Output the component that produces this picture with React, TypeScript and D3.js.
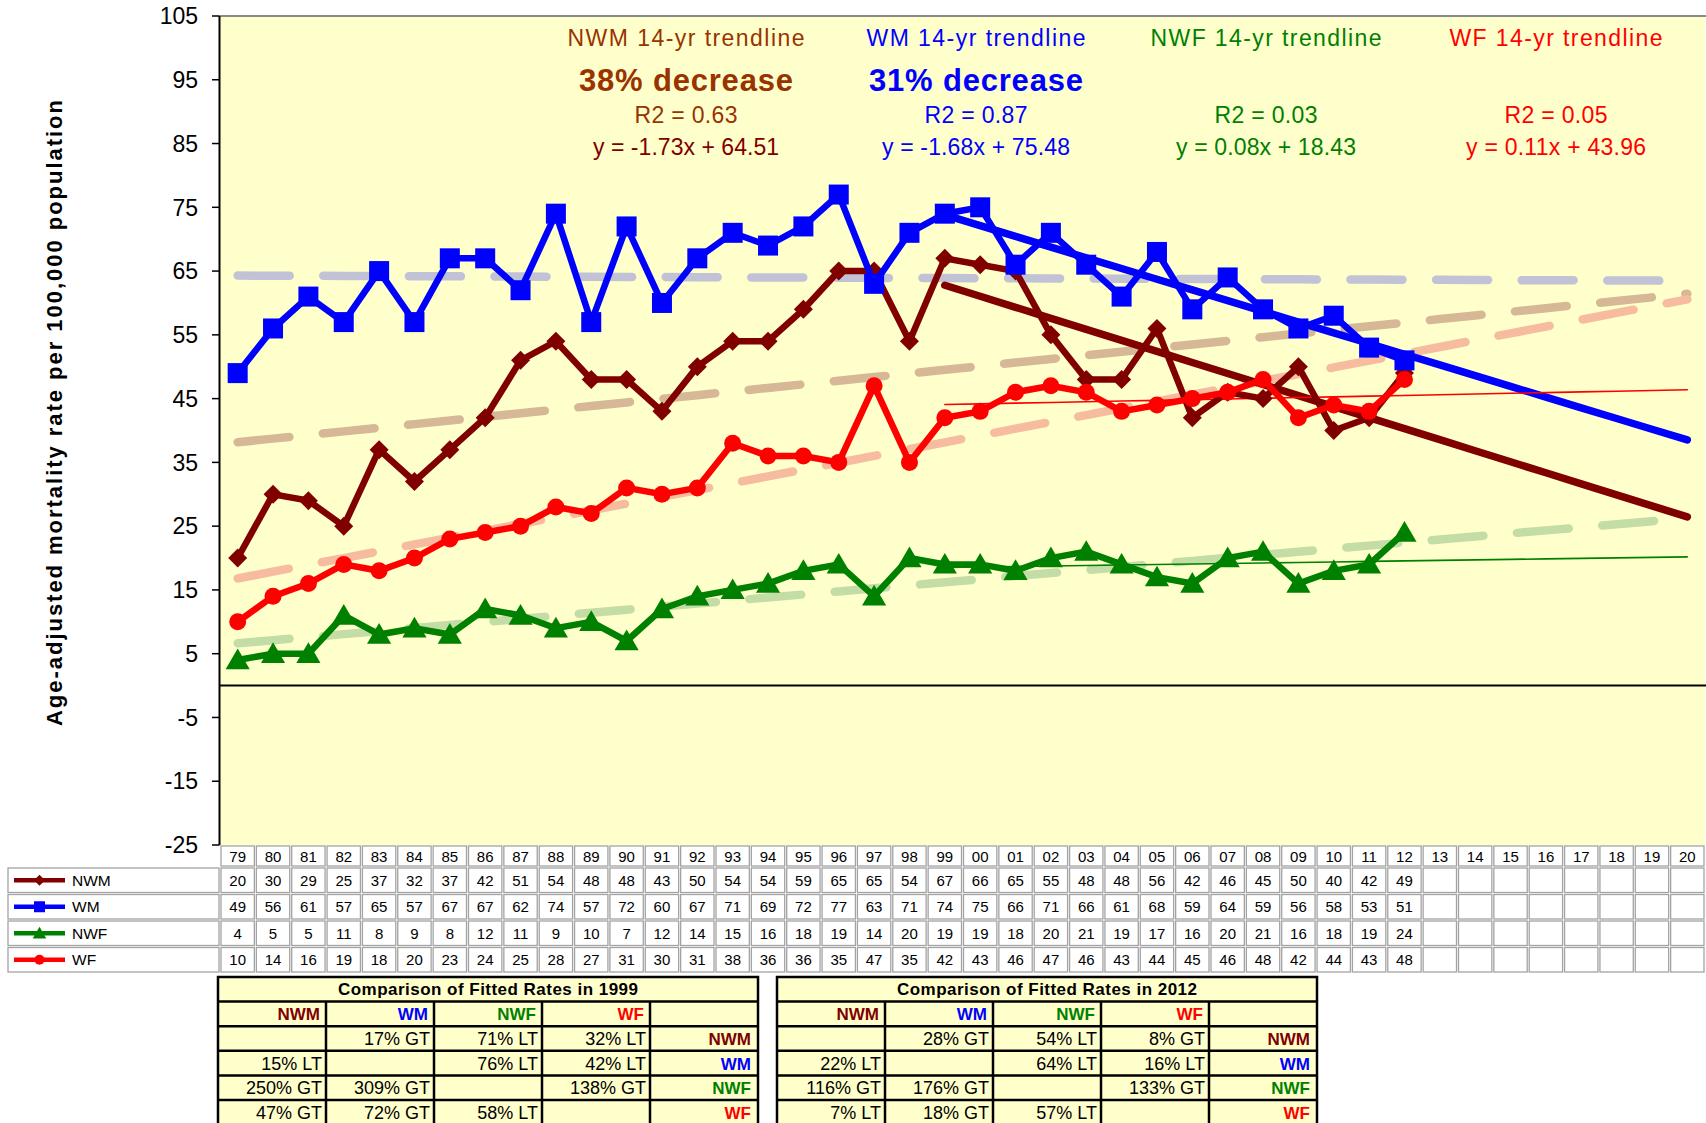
import React, { useEffect } from 'react';
import * as d3 from 'd3';

const years = ['79','80','81','82','83','84','85','86','87','88','89','90','91','92','93','94','95','96','97','98','99','00','01','02','03','04','05','06','07','08','09','10','11','12','13','14','15','16','17','18','19','20'];
const seriesNames = ['NWM', 'WM', 'NWF', 'WF'];
const NWM = [20,30,29,25,37,32,37,42,51,54,48,48,43,50,54,54,59,65,65,54,67,66,65,55,48,48,56,42,46,45,50,40,42,49];
const WM = [49,56,61,57,65,57,67,67,62,74,57,72,60,67,71,69,72,77,63,71,74,75,66,71,66,61,68,59,64,59,56,58,53,51];
const NWF = [4,5,5,11,8,9,8,12,11,9,10,7,12,14,15,16,18,19,14,20,19,19,18,20,21,19,17,16,20,21,16,18,19,24];
const WF = [10,14,16,19,18,20,23,24,25,28,27,31,30,31,38,36,36,35,47,35,42,43,46,47,46,43,44,45,46,48,42,44,43,48];
const yTicks = [105,95,85,75,65,55,45,35,25,15,5,-5,-15,-25];

const trendSlope = [-1.73, -1.68, 0.08, 0.11];
const trendIntercept = [64.51, 75.48, 18.43, 43.96];
const trendR2 = ['0.63', '0.87', '0.03', '0.05'];
const trendDecrease = ['38% decrease', '31% decrease', '', ''];
const trendStartYear = '99';

const cmpHeaders = ['NWM', 'WM', 'NWF', 'WF', ''];
const cmp1999 = [
  ['', '17% GT', '71% LT', '32% LT', 'NWM'],
  ['15% LT', '', '76% LT', '42% LT', 'WM'],
  ['250% GT', '309% GT', '', '138% GT', 'NWF'],
  ['47% GT', '72% GT', '58% LT', '', 'WF'],
];
const cmp2012 = [
  ['', '28% GT', '54% LT', '8% GT', 'NWM'],
  ['22% LT', '', '64% LT', '16% LT', 'WM'],
  ['116% GT', '176% GT', '', '133% GT', 'NWF'],
  ['7% LT', '18% GT', '57% LT', '', 'WF'],
];

const colors = ['#800000', '#0000FF', '#008000', '#FF0000'];
const labelColors = ['#993300', '#0000FF', '#008000', '#FF0000'];
const eqColors = ['#800000', '#0000FF', '#008000', '#FF0000'];
const longColors = ['#D6B896', '#C2C2D6', '#C4DDA6', '#F7BCA0'];
const FONT = 'Liberation Sans, Arial, Helvetica, sans-serif';

function linreg(vals: number[]) {
  const n = vals.length;
  const mx = (n - 1) / 2;
  const my = d3.mean(vals) as number;
  let sxy = 0, sxx = 0;
  for (let i = 0; i < n; i++) { sxy += (i - mx) * (vals[i] - my); sxx += (i - mx) * (i - mx); }
  const m = sxy / sxx;
  return { m, b: my - m * mx };
}

function Marker({ kind, s, color }: { kind: number; s: number; color: string }) {
  if (kind === 0) return <path d={`M0,${-s} L${s},0 L0,${s} L${-s},0Z`} fill={color} />;
  if (kind === 1) return <rect x={-s} y={-s} width={2 * s} height={2 * s} fill={color} />;
  if (kind === 2) return <path d={`M0,${-s} L${s * 1.05},${s * 0.8} L${-s * 1.05},${s * 0.8}Z`} fill={color} />;
  return <circle r={s} fill={color} />;
}

function CompTable({ x0, title, rows }: { x0: number; title: string; rows: string[][] }) {
  const top = 977, rh = 24.6, cw = 108, w = cw * 5;
  const els: any[] = [];
  els.push(<rect key="bg" x={x0} y={top} width={w} height={rh * 6 + 4} fill="#FFFFCC" stroke="#000" strokeWidth={2.5} />);
  els.push(<text key="t" x={x0 + w / 2} y={top + rh / 2 + 6} textAnchor="middle" fontWeight="bold" fontSize={17} fontFamily={FONT}
    textLength={300} lengthAdjust="spacing">{title}</text>);
  for (let r = 1; r <= 5; r++) {
    els.push(<line key={'h' + r} x1={x0} x2={x0 + w} y1={top + rh * r} y2={top + rh * r} stroke="#000" strokeWidth={2.5} />);
  }
  for (let c = 1; c < 5; c++) {
    els.push(<line key={'v' + c} x1={x0 + cw * c} x2={x0 + cw * c} y1={top + rh} y2={top + rh * 6 + 4} stroke="#000" strokeWidth={2.5} />);
  }
  cmpHeaders.forEach((h, c) => {
    if (!h) return;
    els.push(<text key={'hd' + c} x={x0 + cw * (c + 1) - 6} y={top + rh * 1.5 + 6} textAnchor="end" fontWeight="bold" fontSize={17} fill={colors[c]} fontFamily={FONT}>{h}</text>);
  });
  rows.forEach((row, r) => {
    row.forEach((cell, c) => {
      if (!cell) return;
      const isLabel = c === 4;
      els.push(
        <text key={'c' + r + '_' + c} x={x0 + cw * (c + 1) - (isLabel ? 7 : 4)} y={top + rh * (r + 2.5) + 6.5}
          textAnchor="end" fontSize={isLabel ? 17 : 18} fontWeight={isLabel ? 'bold' : 'normal'}
          fill={isLabel ? colors[seriesNames.indexOf(cell)] : '#000'} fontFamily={FONT}>{cell}</text>
      );
    });
  });
  return <g>{els}</g>;
}

export default function App() {
  useEffect(() => {
    document.body.style.margin = '0';
    document.body.style.overflow = 'hidden';
  }, []);
  const W = 1706, H = 1123;
  const plotL = 219.5, plotR = 1705, plotT = 16, plotB = 845;
  const x = d3.scaleBand<string>().domain(years).range([220, 1705]);
  const bw = x.bandwidth();
  const cx = (i: number) => (x(years[i]) as number) + bw / 2;
  const y = d3.scaleLinear().domain([-25, 105]).range([plotB, plotT]);
  const series = [NWM, WM, NWF, WF];
  const line = d3.line<number>().x((_, i) => cx(i)).y(d => y(d));
  const startIdx = years.indexOf(trendStartYear);

  const longTrends = series.map(s => {
    const { m, b } = linreg(s);
    return d3.range(0, years.length).map(i => [cx(i), y(b + m * i)] as [number, number]);
  });
  const trend14 = series.map((_, k) =>
    d3.range(startIdx, years.length).map(i => [cx(i), y(trendIntercept[k] + trendSlope[k] * (i - startIdx + 1))] as [number, number])
  );
  const pl = d3.line();

  const annCx = [686, 976, 1266, 1556];
  const titleW = [237, 219, 231, 213];
  const eqW = [186, 188, 180, 180];
  const fmt = (v: number) => (v < 0 ? '-' + Math.abs(v).toFixed(2) : v.toFixed(2));

  const tableTop = 845, yearRowH = 22, rowH = 26.5;
  const markerSize = [9.5, 10, 11.5, 8.5];

  return (
    <div style={{ position: 'absolute', left: 0, top: 0 }}>
      <svg width={W} height={H} style={{ display: 'block', background: '#fff' }} fontFamily={FONT}>
        <rect x={plotL} y={plotT} width={plotR - plotL} height={plotB - plotT} fill="#FFFFCC" />
        <line x1={plotL} x2={plotR + 1} y1={plotT} y2={plotT} stroke="#8a8a8a" strokeWidth={2} />

        {longTrends.map((pts, k) => (
          <path key={'lt' + k} d={pl(pts) as string} fill="none" stroke={longColors[k]} strokeWidth={8.5}
            strokeDasharray="52 33.6" strokeLinecap="round" />
        ))}

        <line x1={plotL} x2={plotR + 1} y1={y(0)} y2={y(0)} stroke="#000" strokeWidth={2} />

        {trend14.map((pts, k) => (
          <path key={'t14' + k} d={pl(pts) as string} fill="none" stroke={colors[k]}
            strokeWidth={k < 2 ? 7.5 : 1.6} strokeLinejoin="round" strokeLinecap="round" />
        ))}

        {series.map((s, k) => (
          <g key={'s' + k}>
            <path d={line(s) as string} fill="none" stroke={colors[k]} strokeWidth={6.5} strokeLinejoin="miter" />
            {s.map((v, i) => (
              <g key={i} transform={`translate(${cx(i)},${y(v)})`}>
                <Marker kind={k} s={markerSize[k]} color={colors[k]} />
              </g>
            ))}
          </g>
        ))}

        <line x1={plotL} x2={plotL} y1={plotT} y2={plotB} stroke="#000" strokeWidth={2} />
        {yTicks.map(t => (
          <g key={'yt' + t}>
            <line x1={212} x2={plotL} y1={y(t)} y2={y(t)} stroke="#000" strokeWidth={1.5} />
            <text x={198} y={y(t) + 8.2} textAnchor="end" fontSize={23}>{t}</text>
          </g>
        ))}
        <text transform="translate(62,413) rotate(-90)" textAnchor="middle" fontSize={22} fontWeight="bold"
          textLength={626} lengthAdjust="spacing">Age-adjusted mortality rate per 100,000 population</text>

        {seriesNames.map((n, k) => (
          <g key={'ann' + k}>
            <text x={annCx[k]} y={46} textAnchor="middle" fontSize={23} fill={labelColors[k]}
              textLength={titleW[k]} lengthAdjust="spacing">{`${n} 14-yr trendline`}</text>
            {trendDecrease[k] && (
              <text x={annCx[k]} y={90.5} textAnchor="middle" fontSize={31} fontWeight="bold" fill={labelColors[k]}
                textLength={214} lengthAdjust="spacing">{trendDecrease[k]}</text>
            )}
            <text x={annCx[k]} y={123} textAnchor="middle" fontSize={23} fill={labelColors[k]}
              textLength={103} lengthAdjust="spacing">{`R2 = ${trendR2[k]}`}</text>
            <text x={annCx[k]} y={154.5} textAnchor="middle" fontSize={23} fill={eqColors[k]}
              textLength={eqW[k]} lengthAdjust="spacing">{`y = ${fmt(trendSlope[k])}x + ${trendIntercept[k].toFixed(2)}`}</text>
          </g>
        ))}

        {years.map((yr, i) => (
          <g key={'yr' + i}>
            <rect x={(x(yr) as number) + 1} y={tableTop + 1} width={bw - 2} height={yearRowH - 2} fill="#fff" stroke="#a3a3a3" strokeWidth={1.3} />
            <text x={cx(i)} y={tableTop + yearRowH / 2 + 5.5} textAnchor="middle" fontSize={15}>{yr}</text>
            {series.map((s, k) => (
              <g key={k}>
                <rect x={(x(yr) as number) + 1} y={tableTop + yearRowH + rowH * k + 1} width={bw - 2} height={rowH - 2}
                  fill="#fff" stroke="#a3a3a3" strokeWidth={1.3} />
                {s[i] !== undefined && (
                  <text x={cx(i)} y={tableTop + yearRowH + rowH * k + rowH / 2 + 5.5} textAnchor="middle" fontSize={15}>{s[i]}</text>
                )}
              </g>
            ))}
          </g>
        ))}
        {seriesNames.map((n, k) => {
          const ry = tableTop + yearRowH + rowH * k;
          const my = ry + rowH / 2;
          return (
            <g key={'lg' + k}>
              <rect x={8} y={ry + 1} width={211} height={rowH - 2} fill="#fff" stroke="#a3a3a3" strokeWidth={1.3} />
              <line x1={14} x2={65} y1={my} y2={my} stroke={colors[k]} strokeWidth={4.5} />
              <g transform={`translate(39.5,${my})`}>
                <Marker kind={k} s={k === 0 ? 5.5 : k === 1 ? 5.5 : k === 2 ? 6.5 : 5} color={colors[k]} />
              </g>
              <text x={72} y={my + 5.5} fontSize={15.5}>{n}</text>
            </g>
          );
        })}

        <CompTable x0={218} title="Comparison of Fitted Rates in 1999" rows={cmp1999} />
        <CompTable x0={777} title="Comparison of Fitted Rates in 2012" rows={cmp2012} />
      </svg>
    </div>
  );
}
